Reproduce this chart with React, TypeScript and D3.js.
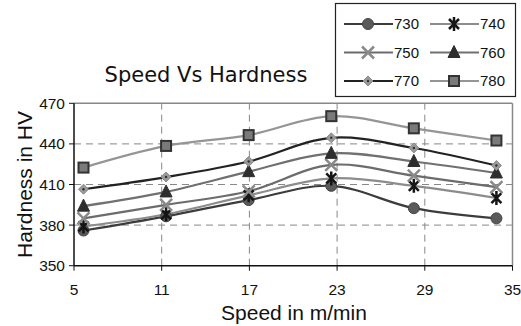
import React from "react";
import * as d3 from "d3";

// speeds in m/min (x) and hardness (HV) per tempering series
const speeds = [5.65, 11.3, 16.95, 22.6, 28.25, 33.9];
const h730 = [376, 386.5, 398.5, 409, 392.5, 385];
const h740 = [379, 388, 402, 414.5, 409, 400];
const h750 = [385, 395, 405, 424.5, 416.5, 408];
const h760 = [394, 404.5, 419.5, 433, 427, 418.5];
const h770 = [406.5, 415.5, 427, 444.5, 437, 424];
const h780 = [422.5, 438.5, 446.5, 460.5, 451.5, 442.5];

const seriesNames = ["730", "740", "750", "760", "770", "780"];
const xTicks = [5, 11, 17, 23, 29, 35];
const yTicks = [350, 380, 410, 440, 470];

const W = 521;
const H = 326;

type Style = { line: string; marker: string; fill: string; stroke: string };
const styles: Record<string, Style> = {
  "730": { line: "#3c3c3c", marker: "circle", fill: "#5a5a5a", stroke: "#444" },
  "740": { line: "#8c8c8c", marker: "star", fill: "none", stroke: "#151515" },
  "750": { line: "#6c6c6c", marker: "x", fill: "none", stroke: "#8a8a8a" },
  "760": { line: "#707070", marker: "triangle", fill: "#2e2e2e", stroke: "#2e2e2e" },
  "770": { line: "#222", marker: "diamond", fill: "#9a9a9a", stroke: "#8a8a8a" },
  "780": { line: "#959595", marker: "square", fill: "#7a7a7a", stroke: "#333" },
};

const Marker = ({ kind, x, y, s }: { kind: string; x: number; y: number; s: Style }) => {
  if (kind === "circle")
    return <circle cx={x} cy={y} r={5.5} fill={s.fill} stroke={s.stroke} strokeWidth={1} />;
  if (kind === "square")
    return <rect x={x - 5} y={y - 5} width={10} height={10} fill={s.fill} stroke={s.stroke} strokeWidth={2} />;
  if (kind === "triangle")
    return <path d={`M${x},${y - 7}L${x + 6},${y + 5}L${x - 6},${y + 5}Z`} fill={s.fill} stroke={s.stroke} />;
  if (kind === "diamond")
    return (
      <g>
        <path d={`M${x},${y - 5}L${x + 5},${y}L${x},${y + 5}L${x - 5},${y}Z`} fill={s.fill} stroke={s.stroke} />
        <circle cx={x} cy={y} r={1.2} fill="#333" />
      </g>
    );
  if (kind === "x")
    return (
      <path d={`M${x - 6},${y - 6}L${x + 6},${y + 6}M${x - 6},${y + 6}L${x + 6},${y - 6}`} stroke={s.stroke} strokeWidth={2.5} />
    );
  // asterisk
  return (
    <path
      d={`M${x - 5},${y - 5}L${x + 5},${y + 5}M${x - 5},${y + 5}L${x + 5},${y - 5}M${x},${y - 7}L${x},${y + 7}`}
      stroke={s.stroke}
      strokeWidth={2.5}
    />
  );
};

export default function App() {
  const x = d3.scaleLinear().domain([5, 35]).range([74, 512.5]);
  const y = d3.scaleLinear().domain([350, 470]).range([265.7, 103.3]);
  const data = [h730, h740, h750, h760, h770, h780];
  const line = d3
    .line<number>()
    .x((_, i) => x(speeds[i]))
    .y((d) => y(d))
    .curve(d3.curveCatmullRom.alpha(0.5));

  const font = "Liberation Sans, Arial, sans-serif";

  return (
    <svg width={W} height={H} style={{ position: "absolute", left: 0, top: 0, background: "#fff" }}>
      <rect width={W} height={H} fill="#fff" />
      {/* grid */}
      {yTicks.slice(1, -1).map((t) => (
        <line key={"gy" + t} x1={x(5)} x2={x(35)} y1={y(t)} y2={y(t)} stroke="#888" strokeDasharray="7,5" />
      ))}
      {xTicks.slice(1, -1).map((t) => (
        <line key={"gx" + t} x1={x(t)} x2={x(t)} y1={y(350)} y2={y(470)} stroke="#888" strokeDasharray="7,5" />
      ))}
      {/* plot border top/right */}
      <line x1={x(5)} x2={x(35)} y1={y(470)} y2={y(470)} stroke="#888" strokeWidth={1.5} />
      <line x1={x(35)} x2={x(35)} y1={y(470)} y2={y(350)} stroke="#888" strokeWidth={1.5} />
      {/* axes */}
      <line x1={x(5)} x2={x(5)} y1={y(470)} y2={y(350)} stroke="#111" strokeWidth={1.5} />
      <line x1={x(5)} x2={x(35)} y1={y(350)} y2={y(350)} stroke="#111" strokeWidth={1.5} />
      {yTicks.map((t) => (
        <g key={"ty" + t}>
          <line x1={x(5) - 5} x2={x(5)} y1={y(t)} y2={y(t)} stroke="#111" />
          <text x={x(5) - 9} y={y(t)} dy="0.35em" textAnchor="end" fontFamily={font} fontSize={15.5} fill="#111">
            {t}
          </text>
        </g>
      ))}
      {xTicks.map((t) => (
        <g key={"tx" + t}>
          <line x1={x(t)} x2={x(t)} y1={y(350)} y2={y(350) + 5} stroke="#111" />
          <text x={x(t)} y={295} textAnchor="middle" fontFamily={font} fontSize={15.5} fill="#111">
            {t}
          </text>
        </g>
      ))}
      {/* series */}
      {data.map((d, i) => (
        <path key={"l" + i} d={line(d) || ""} fill="none" stroke={styles[seriesNames[i]].line} strokeWidth={2.2} />
      ))}
      {data.map((d, i) =>
        d.map((v, j) => (
          <Marker key={`m${i}-${j}`} kind={styles[seriesNames[i]].marker} x={x(speeds[j])} y={y(v)} s={styles[seriesNames[i]]} />
        ))
      )}
      {/* titles */}
      <text x={206} y={82} textAnchor="middle" fontFamily="DejaVu Sans, Verdana, sans-serif" fontSize={21} fill="#111">
        Speed Vs Hardness
      </text>
      <text x={294} y={320} textAnchor="middle" fontFamily={font} fontSize={21} fill="#111">
        Speed in m/min
      </text>
      <text
        transform={`translate(32,${(y(350) + y(470)) / 2}) rotate(-90)`}
        textAnchor="middle"
        fontFamily={font}
        fontSize={21}
        fill="#111"
      >
        Hardness in HV
      </text>
      {/* legend */}
      <rect x={335.5} y={3.5} width={180} height={93} fill="#fff" stroke="#222" strokeWidth={1.2} />
      {seriesNames.map((n, i) => {
        const col = i % 2;
        const row = Math.floor(i / 2);
        const lx = col === 0 ? 344 : 430;
        const ly = 24 + row * 28.5;
        const s = styles[n];
        return (
          <g key={"lg" + n}>
            <line x1={lx} x2={lx + 49} y1={ly} y2={ly} stroke={s.line} strokeWidth={2.2} />
            <Marker kind={s.marker} x={lx + 24} y={ly} s={s} />
            <text x={lx + 50} y={ly} dy="0.36em" fontFamily={font} fontSize={15} fill="#111">
              {n}
            </text>
          </g>
        );
      })}
    </svg>
  );
}
